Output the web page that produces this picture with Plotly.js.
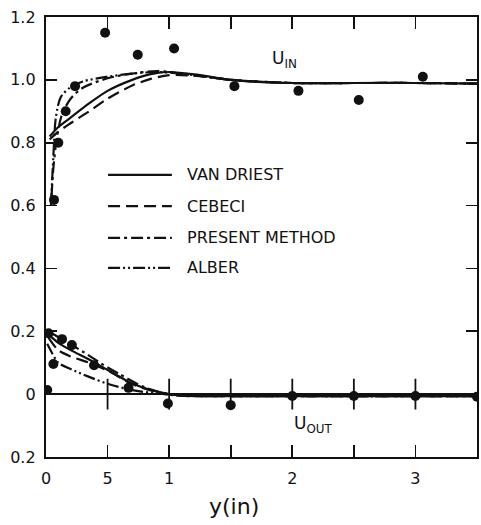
<!DOCTYPE html>
<html>
<head>
<meta charset="utf-8">
<script src="https://cdn.plot.ly/plotly-3.0.1.min.js"></script>
<style>
  html, body { margin: 0; padding: 0; background: #fff; }
  #chart { width: 481px; height: 525px; }
</style>
</head>
<body>
<div id="chart"></div>
<script>
// Measured velocity points, inner region (U_IN)
const inY = [0.065, 0.10, 0.16, 0.236, 0.48, 0.745, 1.04, 1.53, 2.05, 2.54, 3.06];
const inU = [0.618, 0.80, 0.90, 0.98, 1.15, 1.08, 1.10, 0.98, 0.965, 0.936, 1.01];

// Measured velocity points, outer region (U_OUT)
const outY = [0.02, 0.13, 0.21, 0.06, 0.39, 0.67, 0.01, 0.99, 1.50, 2.0, 2.5, 3.0, 3.5];
const outU = [0.194, 0.175, 0.156, 0.096, 0.092, 0.02, 0.013, -0.03, -0.035, -0.006, -0.006, -0.006, -0.008];

// Model predictions, inner region
const vdInY  = [0.03, 0.1, 0.2, 0.35, 0.5, 0.7, 0.85, 1.0, 1.25, 1.5, 2.0, 2.5, 3.0, 3.5];
const vdInU  = [0.82, 0.85, 0.88, 0.925, 0.965, 1.0, 1.018, 1.025, 1.015, 1.0, 0.99, 0.99, 0.99, 0.988];
const ceInY  = [0.03, 0.1, 0.2, 0.35, 0.5, 0.7, 0.85, 1.0, 1.25, 1.5, 2.0, 2.5, 3.0, 3.5];
const ceInU  = [0.81, 0.835, 0.862, 0.9, 0.94, 0.982, 1.003, 1.015, 1.012, 1.0, 0.99, 0.99, 0.99, 0.988];
const pmInY  = [0.045, 0.06, 0.09, 0.13, 0.2, 0.3, 0.5, 0.7, 0.9, 1.1, 1.5, 2.0, 2.5, 3.0, 3.5];
const pmInU  = [0.63, 0.72, 0.82, 0.89, 0.94, 0.975, 1.005, 1.02, 1.028, 1.02, 1.0, 0.99, 0.99, 0.99, 0.988];
const alInY  = [0.04, 0.06, 0.08, 0.12, 0.2, 0.3, 0.5, 0.7, 0.9, 1.1, 1.5, 2.0, 2.5, 3.0, 3.5];
const alInU  = [0.60, 0.76, 0.88, 0.945, 0.977, 0.995, 1.01, 1.02, 1.025, 1.02, 1.0, 0.99, 0.99, 0.99, 0.988];

// Model predictions, outer region
const vdOutY = [0.02, 0.1, 0.2, 0.35, 0.5, 0.7, 0.9, 1.1, 1.5, 2.0, 2.5, 3.0, 3.5];
const vdOutU = [0.19, 0.163, 0.14, 0.11, 0.077, 0.034, 0.008, -0.005, -0.006, -0.006, -0.006, -0.006, -0.006];
const ceOutY = [0.02, 0.1, 0.2, 0.35, 0.5, 0.7, 0.9, 1.1, 1.5, 2.0, 2.5, 3.0, 3.5];
const ceOutU = [0.18, 0.14, 0.12, 0.1, 0.075, 0.032, 0.007, -0.005, -0.006, -0.006, -0.006, -0.006, -0.006];
const pmOutY = [0.02, 0.15, 0.3, 0.45, 0.6, 0.8, 1.0, 1.2, 1.5, 2.0, 2.5, 3.0, 3.5];
const pmOutU = [0.20, 0.17, 0.135, 0.097, 0.063, 0.022, 0.0, -0.005, -0.006, -0.006, -0.006, -0.006, -0.006];
const alOutY = [0.01, 0.05, 0.1, 0.2, 0.35, 0.5, 0.7, 0.9, 1.1, 1.5, 2.0, 2.5, 3.0, 3.5];
const alOutU = [0.16, 0.13, 0.10, 0.08, 0.055, 0.033, 0.013, 0.002, -0.005, -0.006, -0.006, -0.006, -0.006, -0.006];

// Axis ticks and labels
const xTickVals = [0, 0.5, 1, 2, 3];
const xTickText = ['0', '5', '1', '2', '3'];
const yTickVals = [-0.2, 0, 0.2, 0.4, 0.6, 0.8, 1.0, 1.2];
const yTickText = ['0.2', '0', '0.2', '0.4', '0.6', '0.8', '1.0', '1.2'];
const zeroTicks = [0.5, 1, 1.5, 2, 2.5, 3];

// Model names and dash styles
const modelNames = ['VAN DRIEST', 'CEBECI', 'PRESENT METHOD', 'ALBER'];
const modelDash = ['solid', '12px,6px', '12px,4px,3px,4px', '12px,3px,2px,3px,2px,3px'];

const FONT = 'DejaVu Sans, Liberation Sans, Arial, sans-serif';
const INK = '#111';

function curve(x, y, dash) {
  return {
    x: x, y: y, type: 'scatter', mode: 'lines',
    line: { color: INK, width: 2.2, dash: dash, shape: 'spline', smoothing: 0.8 },
    hoverinfo: 'skip', showlegend: false
  };
}

const traces = [
  curve(vdInY, vdInU, modelDash[0]),
  curve(ceInY, ceInU, modelDash[1]),
  curve(pmInY, pmInU, modelDash[2]),
  curve(alInY, alInU, modelDash[3]),
  curve(vdOutY, vdOutU, modelDash[0]),
  curve(ceOutY, ceOutU, modelDash[1]),
  curve(pmOutY, pmOutU, modelDash[2]),
  curve(alOutY, alOutU, modelDash[3]),
  // crossing ticks on the zero line
  {
    x: zeroTicks, y: zeroTicks.map(() => 0), type: 'scatter', mode: 'markers',
    marker: { symbol: 'line-ns', size: 22, line: { color: INK, width: 1.8 } },
    hoverinfo: 'skip', showlegend: false
  },
  {
    x: inY, y: inU, type: 'scatter', mode: 'markers',
    marker: { color: INK, size: 10 }, showlegend: false
  },
  {
    x: outY, y: outU, type: 'scatter', mode: 'markers',
    marker: { color: INK, size: 10 }, showlegend: false
  }
];

// Hand-placed key inside the plot
const keyX0 = 0.144, keyX1 = 0.292, keyTextX = 0.323;
const keyRows = [0.641, 0.570, 0.498, 0.430];
const shapes = modelNames.map((n, i) => ({
  type: 'line', xref: 'paper', yref: 'paper',
  x0: keyX0, x1: keyX1, y0: keyRows[i], y1: keyRows[i],
  line: { color: INK, width: 2.2, dash: modelDash[i] }
}));
const annotations = modelNames.map((n, i) => ({
  text: n, xref: 'paper', yref: 'paper', x: keyTextX, y: keyRows[i],
  xanchor: 'left', yanchor: 'middle', showarrow: false,
  font: { family: FONT, size: 16, color: INK }
}));
annotations.push(
  { text: 'U<sub>IN</sub>', x: 1.94, y: 1.065, xref: 'x', yref: 'y', showarrow: false,
    font: { family: FONT, size: 17, color: INK } },
  { text: 'U<sub>OUT</sub>', x: 2.17, y: -0.095, xref: 'x', yref: 'y', showarrow: false,
    font: { family: FONT, size: 17, color: INK } },
  { text: 'y(in)', x: 0.437, y: -0.112, xref: 'paper', yref: 'paper', showarrow: false,
    xanchor: 'center', yanchor: 'middle', font: { family: FONT, size: 22, color: INK } }
);

const layout = {
  width: 481, height: 525,
  margin: { l: 46, r: 4, t: 17, b: 68 },
  paper_bgcolor: '#fff', plot_bgcolor: '#fff',
  showlegend: false,
  font: { family: FONT, size: 16, color: INK },
  xaxis: {
    range: [0, 3.5], showgrid: false, zeroline: false,
    showline: true, linecolor: INK, linewidth: 2.2, mirror: 'ticks',
    ticks: 'inside', ticklen: 12, tickwidth: 1.8, tickcolor: INK,
    tickmode: 'array', tickvals: xTickVals, ticktext: xTickText,
    minor: { tick0: 0, dtick: 0.5, ticks: 'inside', ticklen: 12, tickwidth: 1.8, tickcolor: INK, showgrid: false },
    ticklabelstandoff: 6,
    tickfont: { family: FONT, size: 16, color: INK }
  },
  yaxis: {
    range: [-0.2, 1.2], showgrid: false,
    zeroline: true, zerolinecolor: INK, zerolinewidth: 1.8,
    showline: true, linecolor: INK, linewidth: 2.2, mirror: 'ticks',
    ticks: 'inside', ticklen: 11, tickwidth: 1.8, tickcolor: INK,
    tickmode: 'array', tickvals: yTickVals, ticktext: yTickText,
    ticklabelstandoff: 5,
    tickfont: { family: FONT, size: 16, color: INK }
  },
  shapes: shapes,
  annotations: annotations
};

Plotly.newPlot('chart', traces, layout, { staticPlot: true, displayModeBar: false });
</script>
</body>
</html>
